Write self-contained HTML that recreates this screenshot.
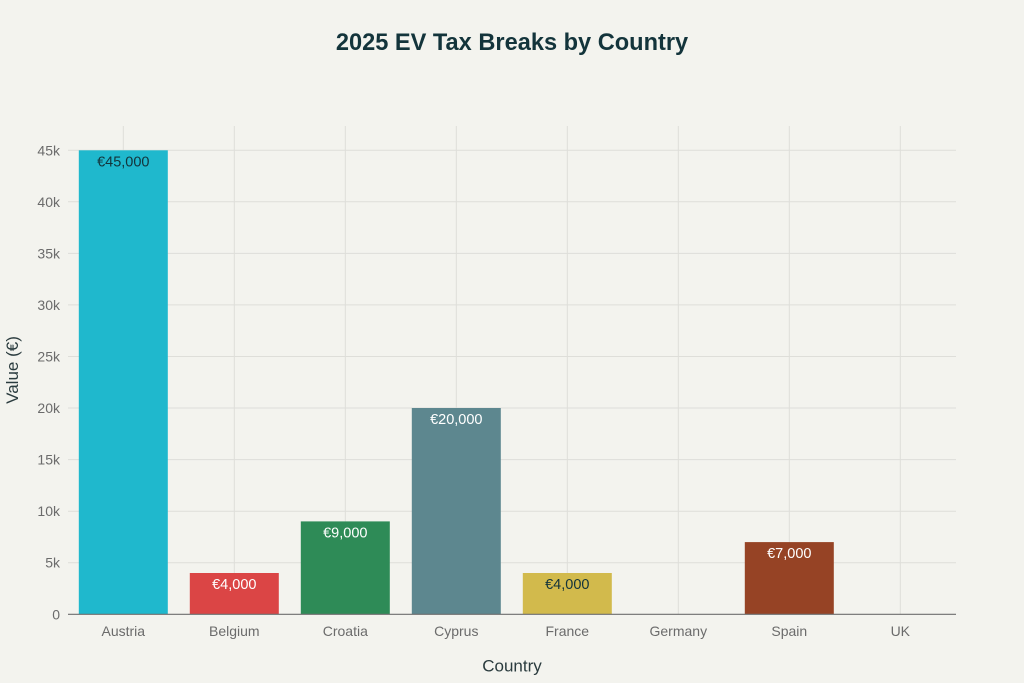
<!DOCTYPE html>
<html>
<head>
<meta charset="utf-8">
<style>
html,body{margin:0;padding:0;background:#F3F3EE;}
svg{display:block;}
text{font-family:"Liberation Sans",Arial,sans-serif;}
</style>
</head>
<body>
<svg width="1024" height="683" viewBox="0 0 1024 683" xmlns="http://www.w3.org/2000/svg">
<rect x="0" y="0" width="1024" height="683" fill="#F3F3EE"/>
<!-- title -->
<text x="512" y="50" text-anchor="middle" font-size="23.6" font-weight="bold" fill="#13343B">2025 EV Tax Breaks by Country</text>

<!-- horizontal gridlines -->
<g stroke="#DEDED9" stroke-width="1">
<line x1="68" x2="956" y1="562.7" y2="562.7"/>
<line x1="68" x2="956" y1="511.2" y2="511.2"/>
<line x1="68" x2="956" y1="459.6" y2="459.6"/>
<line x1="68" x2="956" y1="408.0" y2="408.0"/>
<line x1="68" x2="956" y1="356.5" y2="356.5"/>
<line x1="68" x2="956" y1="304.9" y2="304.9"/>
<line x1="68" x2="956" y1="253.4" y2="253.4"/>
<line x1="68" x2="956" y1="201.8" y2="201.8"/>
<line x1="68" x2="956" y1="150.3" y2="150.3"/>
</g>
<!-- vertical gridlines -->
<g stroke="#DEDED9" stroke-width="1">
<line x1="123.3" x2="123.3" y1="126" y2="614"/>
<line x1="234.3" x2="234.3" y1="126" y2="614"/>
<line x1="345.3" x2="345.3" y1="126" y2="614"/>
<line x1="456.3" x2="456.3" y1="126" y2="614"/>
<line x1="567.3" x2="567.3" y1="126" y2="614"/>
<line x1="678.3" x2="678.3" y1="126" y2="614"/>
<line x1="789.3" x2="789.3" y1="126" y2="614"/>
<line x1="900.3" x2="900.3" y1="126" y2="614"/>
</g>

<!-- bars -->
<rect x="78.8" y="150.3" width="89" height="464" fill="#1FB8CD"/>
<rect x="189.8" y="573.0" width="89" height="41.3" fill="#DB4545"/>
<rect x="300.8" y="521.4" width="89" height="92.9" fill="#2E8B57"/>
<rect x="411.8" y="408.0" width="89" height="206.3" fill="#5D878F"/>
<rect x="522.8" y="573.0" width="89" height="41.3" fill="#D2BA4C"/>
<rect x="744.8" y="542.1" width="89" height="72.2" fill="#964325"/>

<!-- bar labels -->
<g font-size="14.5" text-anchor="middle">
<text x="123.3" y="166.3" fill="#13343B">€45,000</text>
<text x="234.3" y="589" fill="#FFFFFF">€4,000</text>
<text x="345.3" y="537.4" fill="#FFFFFF">€9,000</text>
<text x="456.3" y="424.2" fill="#FFFFFF">€20,000</text>
<text x="567.3" y="589" fill="#13343B">€4,000</text>
<text x="789.3" y="558.1" fill="#FFFFFF">€7,000</text>
</g>

<!-- baseline -->
<line x1="68" x2="956" y1="614.3" y2="614.3" stroke="#6E6E6E" stroke-width="1.2"/>

<!-- y tick labels -->
<g font-size="14" fill="#6B6B6B" text-anchor="end">
<text x="60" y="619.3">0</text>
<text x="60" y="567.7">5k</text>
<text x="60" y="516.2">10k</text>
<text x="60" y="464.6">15k</text>
<text x="60" y="413.0">20k</text>
<text x="60" y="361.5">25k</text>
<text x="60" y="309.9">30k</text>
<text x="60" y="258.4">35k</text>
<text x="60" y="206.8">40k</text>
<text x="60" y="155.3">45k</text>
</g>

<!-- x tick labels -->
<g font-size="14" fill="#6B6B6B" text-anchor="middle">
<text x="123.3" y="636">Austria</text>
<text x="234.3" y="636">Belgium</text>
<text x="345.3" y="636">Croatia</text>
<text x="456.3" y="636">Cyprus</text>
<text x="567.3" y="636">France</text>
<text x="678.3" y="636">Germany</text>
<text x="789.3" y="636">Spain</text>
<text x="900.3" y="636">UK</text>
</g>

<!-- axis titles -->
<text x="512" y="671.5" font-size="17" fill="#2A3B3E" text-anchor="middle">Country</text>
<text transform="translate(18,370) rotate(-90)" font-size="17" fill="#2A3B3E" text-anchor="middle">Value (€)</text>
</svg>
</body>
</html>
